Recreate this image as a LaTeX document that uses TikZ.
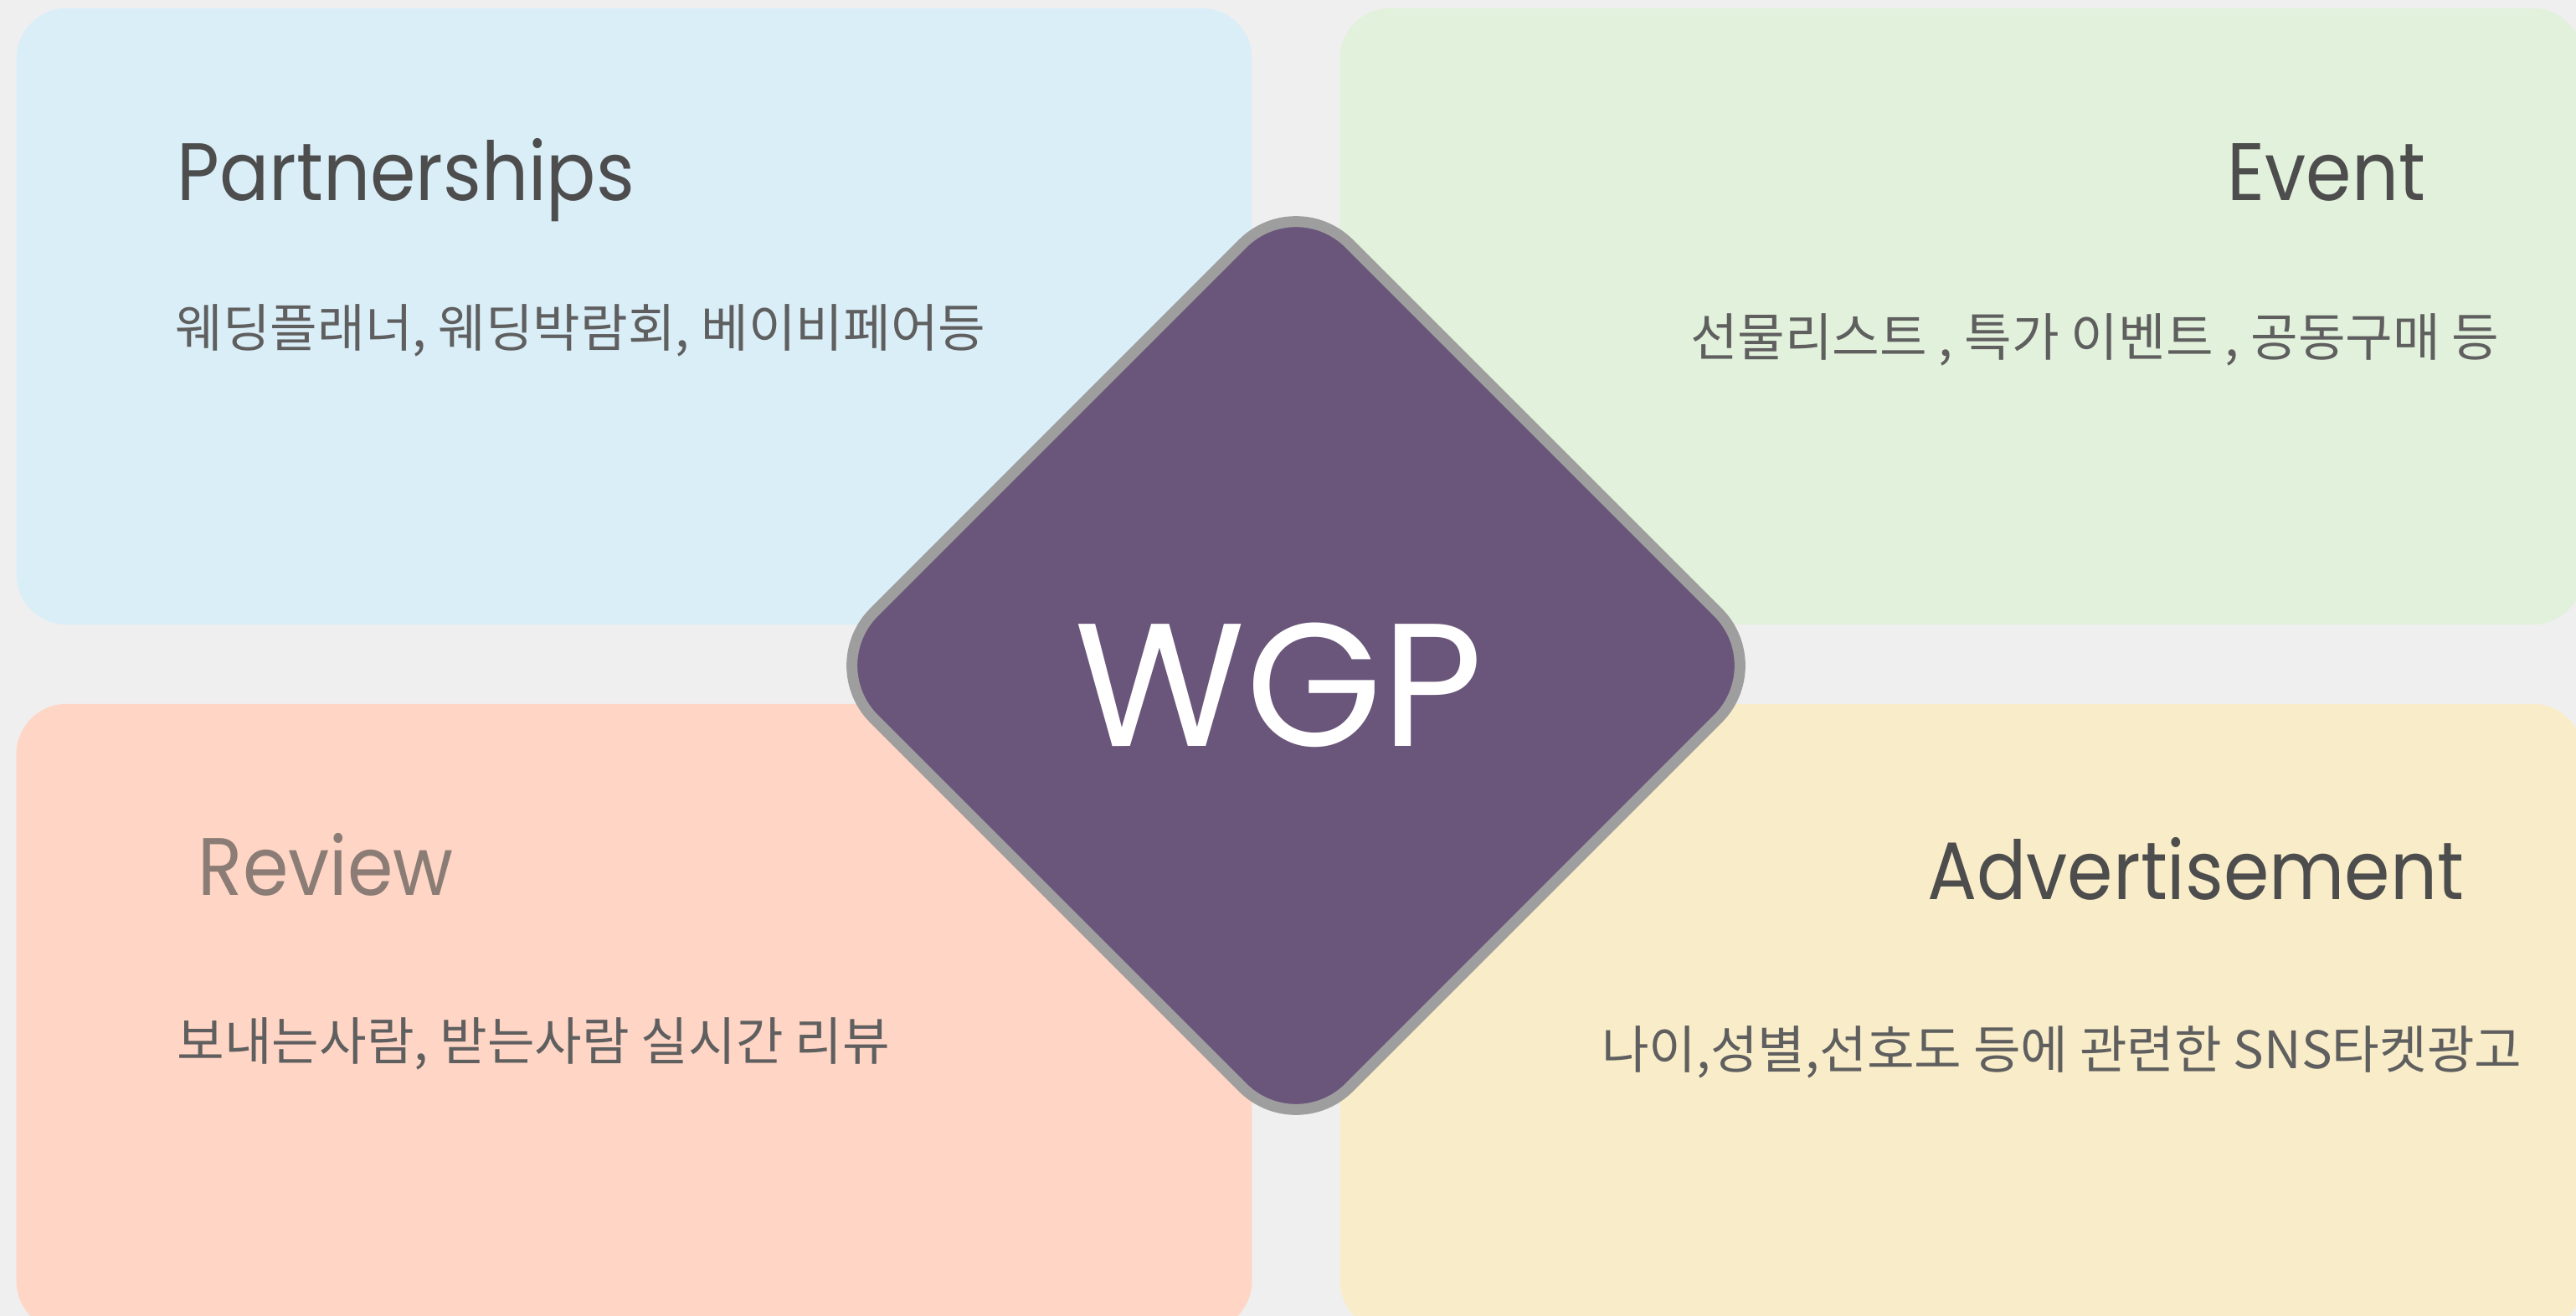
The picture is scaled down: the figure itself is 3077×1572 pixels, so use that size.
\documentclass[tikz,border=0pt]{standalone}
\usepackage{fontspec}
\setmainfont{Poppins}
\newfontfamily\titlefont[FakeStretch=0.9]{Poppins}
\newfontfamily\krfont{Noto Sans CJK KR}
\usetikzlibrary{shapes.geometric, positioning}
\definecolor{pagebg}{HTML}{EFEFEF}
\definecolor{partnerbg}{HTML}{DAEEF8}
\definecolor{eventbg}{HTML}{E2F1DB}
\definecolor{reviewbg}{HTML}{FFD5C5}
\definecolor{adbg}{HTML}{F9EDC9}
\definecolor{hubfill}{HTML}{6B567B}
\definecolor{hubline}{HTML}{9E9E9E}
\definecolor{ink}{HTML}{4D4D4D}
\definecolor{softink}{HTML}{8B7D76}

\begin{document}
\begin{tikzpicture}[
  x=0.01cm, y=-0.01cm,
  panel/.style={rounded corners=0.6cm, minimum width=14.75cm,
                minimum height=7.36cm, inner sep=0pt},
  title/.style={font=\titlefont\fontsize{27.7}{30}\selectfont, text=ink, inner sep=0pt},
  desc/.style={font=\krfont\fontsize{17.5}{20}\selectfont, text=ink!90, inner sep=0pt},
  hub/.style={diamond, aspect=1, draw=hubline, line width=0.13cm, fill=hubfill,
              rounded corners=0.9cm, minimum size=11.4cm, inner sep=0pt,
              text=white, text height=1.92cm, text depth=0pt,
              font=\fontsize{59.5}{62}\selectfont},
]
  \path[use as bounding box, fill=pagebg] (0,0) rectangle (3077,1572);
  \clip (0,0) rectangle (3077,1572);

  % Panels
  \node[panel, fill=partnerbg] (partbox) at (757.5,378) {};
  \node[panel, fill=eventbg, minimum width=14.84cm] (eventbox) at (2343,378) {};
  \node[panel, fill=reviewbg, minimum height=7.49cm] (reviewbox) at (757.5,1215.5) {};
  \node[panel, fill=adbg, minimum width=14.84cm, minimum height=7.49cm] (adbox) at (2343,1215.5) {};

  % Center
  \node[hub] (wgp) at (1548,795) {WGP\kern0.4cm};

  % Titles
  \node[title, anchor=base west] (parttitle) at (211,239) {Partnerships};
  \node[title, anchor=base east] (eventtitle) at (2898,239) {Event};
  \node[title, anchor=base west, text=softink] (reviewtitle) at (236,1069) {Review};
  \node[title, anchor=base east] (adtitle) at (2944,1074) {Advertisement};

  % Descriptions
  \node[desc, anchor=west] (partdesc) at (209,395) {웨딩플래너, 웨딩박람회, 베이비페어등};
  \node[desc, anchor=east] (eventdesc) at (2986,406) {선물리스트 , 특가 이벤트 , 공동구매 등};
  \node[desc, anchor=west] (reviewdesc) at (211,1247) {보내는사람, 받는사람 실시간 리뷰};
  \node[desc, anchor=east] (addesc) at (3013,1257) {나이,성별,선호도 등에 관련한 SNS타켓광고};

\end{tikzpicture}
\end{document}
